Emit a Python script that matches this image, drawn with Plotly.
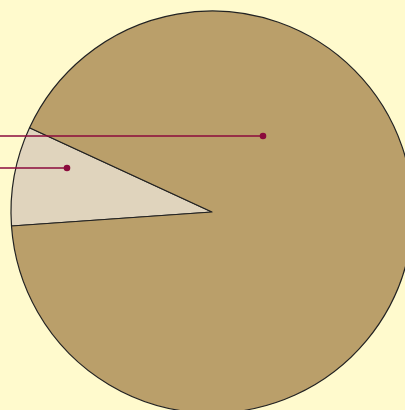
import plotly.graph_objects as go

# Data
categories = ["Category A", "Category B"]
values = [8, 92]
slice_colors = ["#E0D4BD", "#BA9F6A"]

# Label anchor points (pixel positions of the leader-line dots)
anchor_x = [67, 263]
anchor_y = [168, 136]

W, H = 425, 425
cx, cy, r = 212, 212, 201
leader_color = "#8B0A3C"
dot_r = 3.3

fig = go.Figure()
fig.add_trace(go.Pie(
    labels=categories,
    values=values,
    sort=False,
    direction="clockwise",
    rotation=266,
    textinfo="none",
    hoverinfo="label+percent",
    marker=dict(colors=slice_colors, line=dict(color="#222222", width=1.2)),
    domain=dict(x=[(cx - r) / W, (cx + r) / W], y=[(H - cy - r) / H, (H - cy + r) / H]),
    showlegend=False,
))

# invisible scatter to establish the pixel-like cartesian axes
fig.add_trace(go.Scatter(x=anchor_x, y=anchor_y, mode="markers",
                         marker=dict(opacity=0), hoverinfo="skip", showlegend=False))

shapes = []
for ax, ay in zip(anchor_x, anchor_y):
    shapes.append(dict(type="line", xref="x", yref="y", x0=-30, x1=ax, y0=ay, y1=ay,
                       line=dict(color=leader_color, width=1.3), layer="above"))
    shapes.append(dict(type="circle", xref="x", yref="y",
                       x0=ax - dot_r, x1=ax + dot_r, y0=ay - dot_r, y1=ay + dot_r,
                       fillcolor=leader_color, line=dict(color=leader_color, width=0),
                       layer="above"))

fig.update_layout(
    width=W, height=H,
    margin=dict(l=0, r=0, t=0, b=0),
    paper_bgcolor="#FFFACD",
    plot_bgcolor="rgba(0,0,0,0)",
    xaxis=dict(range=[0, W], domain=[0, 1], visible=False, fixedrange=True),
    yaxis=dict(range=[H, 0], domain=[0, 1], visible=False, fixedrange=True),
    shapes=shapes,
)

fig.write_html(
    "out.html",
    config={"displayModeBar": False},
    post_script=(
        "document.body.style.margin='0';"
        "document.body.style.overflow='hidden';"
        "document.documentElement.style.overflow='hidden';"
        "document.body.style.background='#FFFACD';"
    ),
)
